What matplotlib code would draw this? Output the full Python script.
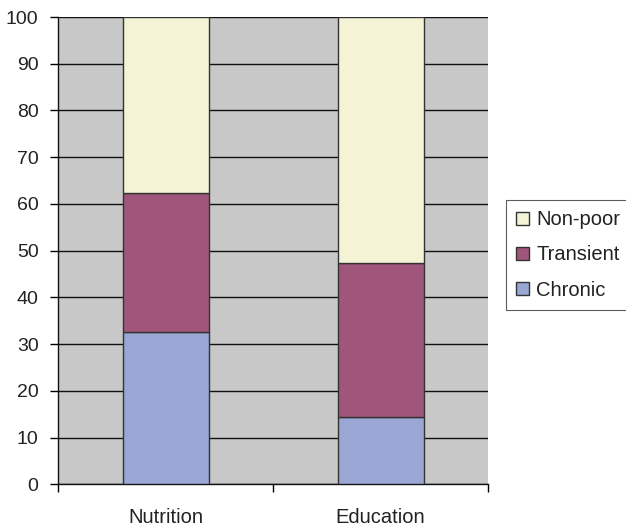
import matplotlib
matplotlib.use("Agg")
import matplotlib.pyplot as plt
import numpy as np

plt.rcParams['font.family'] = ['Liberation Sans', 'DejaVu Sans']

categories = ["Nutrition", "Education"]
chronic = [32.7, 14.3]
transient = [29.6, 33.1]
non_poor = [37.7, 52.6]
series_names = ["Chronic", "Transient", "Non-poor"]
colors = ["#9aa6d4", "#a0567a", "#f5f3d5"]

fig = plt.figure(figsize=(6.26, 5.27), dpi=100)
ax = fig.add_axes([0.0927, 0.081, 0.687, 0.8867])
ax.set_facecolor("#c8c8c8")

x = np.arange(len(categories))
bottom = np.zeros(len(categories))
handles = []
for vals, name, col in zip([chronic, transient, non_poor], series_names, colors):
    h = ax.bar(x, vals, width=0.4, bottom=bottom, color=col, edgecolor="#333333",
               linewidth=1.0, label=name, zorder=3)
    handles.append(h)
    bottom += np.array(vals)

ax.set_ylim(0, 100)
ax.set_xlim(-0.5, 1.5)
ax.set_yticks(np.arange(0, 101, 10))
ax.yaxis.grid(True, color="#111111", linewidth=1.0, zorder=1)
ax.set_axisbelow(True)

ax.set_xticks([-0.5, 0.5, 1.5])
ax.set_xticklabels([])
ax.set_xticks(x, minor=True)
ax.set_xticklabels(categories, minor=True)
ax.tick_params(axis='x', which='minor', length=0, pad=17, labelsize=14.5,
               labelcolor="#222222")
ax.tick_params(axis='x', which='major', length=6, direction='out', width=1)
ax.tick_params(axis='y', length=6, direction='out', width=1, labelsize=14,
               pad=8, labelcolor="#222222")

for s in ["top", "right"]:
    ax.spines[s].set_visible(False)
for s in ["left", "bottom"]:
    ax.spines[s].set_color("#111111")
    ax.spines[s].set_linewidth(1.0)

leg = fig.legend(handles[::-1], series_names[::-1], loc="upper left",
                 bbox_to_anchor=(0.808, 0.62), frameon=True, fancybox=False,
                 edgecolor="#333333", fontsize=14.5, handlelength=0.65,
                 handleheight=0.65, handletextpad=0.35, borderpad=0.5,
                 labelspacing=0.8, borderaxespad=0)
leg.get_frame().set_linewidth(0.8)
for t in leg.get_texts():
    t.set_color("#222222")

fig.savefig("out.png", dpi=100)
